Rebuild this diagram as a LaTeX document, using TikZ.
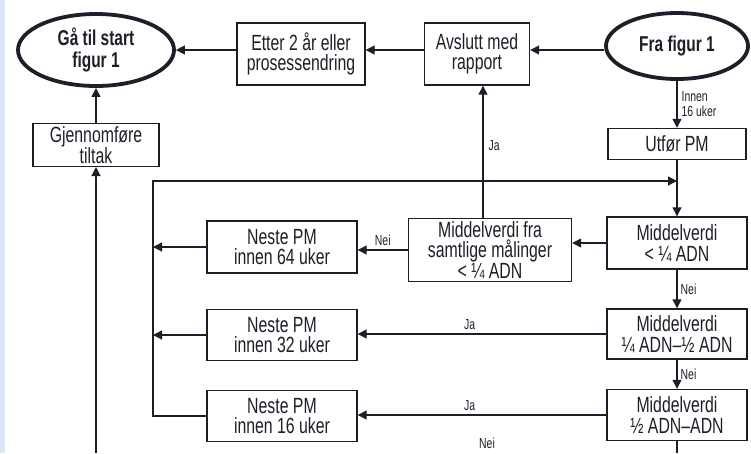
\documentclass[tikz,border=0pt]{standalone}
\usepackage{fontspec}
\setmainfont{Liberation Sans}[FakeStretch=0.72]
\usetikzlibrary{arrows.meta,shapes.geometric}

\definecolor{stripblue}{RGB}{220,229,245}
\definecolor{inkdark}{RGB}{30,30,40}

\tikzset{
    box/.style={draw, line width=1.4pt, align=center, inner sep=0pt,
        font=\fontsize{22}{20.5}\selectfont},
    term/.style={ellipse, draw, line width=3.8pt, align=center, inner sep=0pt,
        font=\bfseries\fontsize{21.5}{22}\selectfont},
    lbl/.style={font=\fontsize{14.5}{15}\selectfont, inner sep=1pt},
    arr/.style={line width=1.3pt, -{Triangle[length=9pt,width=9pt]}},
    ln/.style={line width=1.3pt}
}

\begin{document}
\begin{tikzpicture}[x=1pt, y=-1pt, color=inkdark]
    \useasboundingbox (0,0) rectangle (751,453);
    \fill[stripblue] (0,0) rectangle (5,453);

    % Top row
    \node[term, minimum width=156, minimum height=72] (start) at (96,50) {Gå til start\\figur 1};
    \node[box, minimum width=128, minimum height=62] (etter) at (301,54) {Etter 2 år eller\\prosessendring};
    \node[box, minimum width=105, minimum height=62] (avslutt) at (477,54) {Avslutt med\\rapport};
    \node[term, minimum width=142, minimum height=66] (fra) at (677,46) {Fra figur 1};

    % Second row
    \node[box, minimum width=126, minimum height=34, inner ysep=2.5pt, font=\fontsize{22}{15.5}\selectfont] (tiltak) at (96,145) {Gjennomføre\\tiltak};
    \node[box, minimum width=138, minimum height=31] (utfor) at (677,144) {Utfør PM};

    % Decision column
    \node[box, minimum width=140, minimum height=52] (m1) at (677,243) {Middelverdi\\< ¼ ADN};
    \node[box, minimum width=163, minimum height=63] (samt) at (490,250) {Middelverdi fra\\samtlige målinger\\< ¼ ADN};
    \node[box, minimum width=140, minimum height=50] (m2) at (677,334) {Middelverdi\\¼ ADN–½ ADN};
    \node[box, minimum width=140, minimum height=51] (m3) at (677,415) {Middelverdi\\½ ADN–ADN};

    % Next PM boxes
    \node[box, minimum width=150, minimum height=52] (n64) at (282,247) {Neste PM\\innen 64 uker};
    \node[box, minimum width=150, minimum height=51] (n32) at (282,335) {Neste PM\\innen 32 uker};
    \node[box, minimum width=150, minimum height=51] (n16) at (282,416) {Neste PM\\innen 16 uker};

    \coordinate (loop) at (153,181);
    \coordinate (bot) at (96,453);
    \coordinate (mend) at (677,453);
    \coordinate (jax) at (483,0);

    % Top row arrows
    \draw[arr] (fra.west |- start.east) -- (start.east -| avslutt.east);
    \draw[arr] (avslutt.west |- start.east) -- (start.east -| etter.east);
    \draw[arr] (etter.west |- start.east) -- (start.east);

    % Left column
    \draw[arr] (bot) -- (tiltak.south);
    \draw[arr] (tiltak.north) -- (start.south);

    % Main column
    \draw[arr] (fra.south) -- (utfor.north)
        node[lbl, midway, right, align=left, xshift=3pt] {Innen\\16 uker};
    \draw[arr] (utfor.south) -- (m1.north);
    \draw[arr] (m1.south) -- (m2.north) node[lbl, midway, right, xshift=2pt] {Nei};
    \draw[arr] (m2.south) -- (m3.north) node[lbl, midway, right, xshift=2pt] {Nei};
    \draw[ln] (m3.south) -- (mend);

    % Branches to the left
    \draw[arr] (m1.west) -- (m1.west -| samt.east);
    \draw[arr] (samt.north -| jax) -- (avslutt.south -| jax)
        node[lbl, pos=0.55, right, xshift=4pt] {Ja};
    \draw[arr] (samt.west) -- (samt.west -| n64.east)
        node[lbl, midway, above, yshift=3pt] {Nei};
    \draw[arr] (m2.west) -- (m2.west -| n32.east)
        node[lbl, pos=0.55, above, yshift=3pt] {Ja};
    \draw[arr] (m3.west) -- (m3.west -| n16.east)
        node[lbl, pos=0.55, above, yshift=3pt] {Ja};
    \node[lbl] (nei) at (487,443) {Nei};

    % Loop back to Utfør PM
    \draw[arr] (n64.west) -- (n64.west -| loop);
    \draw[arr] (n32.west) -- (n32.west -| loop);
    \draw[arr] (n16.west) -| (loop) -- (loop -| utfor.south);
\end{tikzpicture}
\end{document}
